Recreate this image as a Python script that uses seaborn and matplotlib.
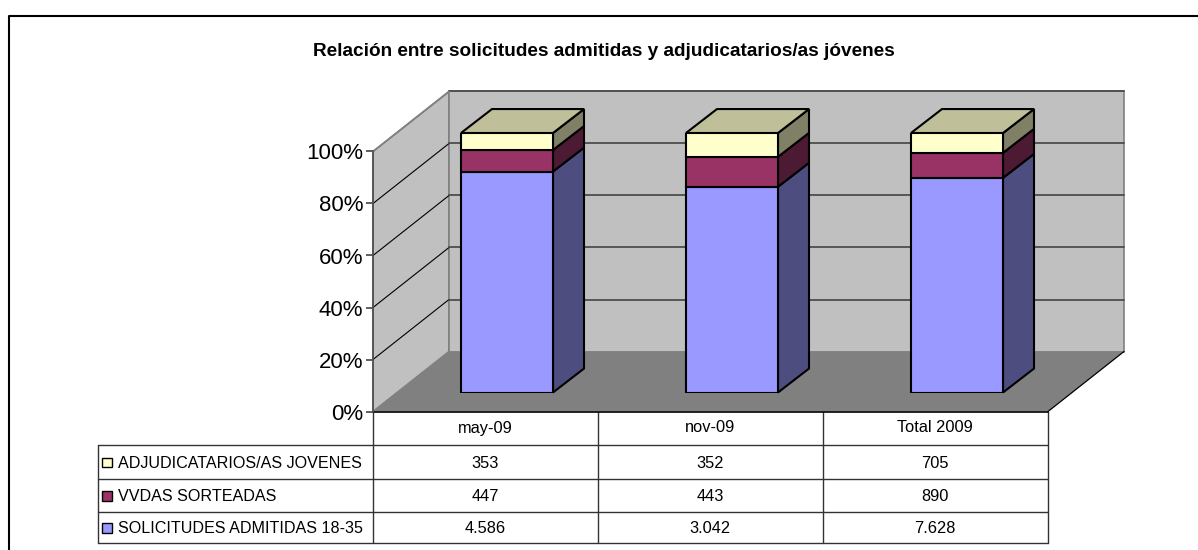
import numpy as np
import pandas as pd
import matplotlib
matplotlib.use("Agg")
import matplotlib.pyplot as plt
from matplotlib.patches import Polygon, Rectangle
import seaborn as sns

TITLE = "Relación entre solicitudes admitidas y adjudicatarios/as jóvenes"
periods = ["may-09", "nov-09", "Total 2009"]
series_names = ["SOLICITUDES ADMITIDAS 18-35", "VVDAS SORTEADAS", "ADJUDICATARIOS/AS JOVENES"]
solicitudes = [4586, 3042, 7628]
viviendas = [447, 443, 890]
adjudicatarios = [353, 352, 705]
front_colors = ["#9999FF", "#993366", "#FFFFCC"]
side_colors = ["#4D4D80", "#4D1A33", "#808066"]
top_color = "#BFBF99"
wall_color = "#C0C0C0"
floor_color = "#808080"
y_ticks = [0, 20, 40, 60, 80, 100]

sns.set_style("white")
plt.rcParams["font.family"] = ["Liberation Sans", "DejaVu Sans"]

W, H = 1198, 550
fig = plt.figure(figsize=(W / 100, H / 100), dpi=100, facecolor="white")


def rect(x0, ytop, x1, ybottom):
    return [x0 / W, 1 - ybottom / H, (x1 - x0) / W, (ybottom - ytop) / H]


# Layer in pixel coordinates for the frame, table and title
page = fig.add_axes([0, 0, 1, 1], zorder=0)
page.set_xlim(0, W)
page.set_ylim(H, 0)
page.axis("off")
page.plot([8.5, 8.5, W], [H, 15.5, 15.5], color="black", lw=1.5, clip_on=False)
page.text(603.5, 51.5, TITLE, ha="center", va="center", fontsize=13.7, fontweight="bold", color="black")

# Walled plot axes: front plane of the 3D box
X0, X1, Y0, Y100 = 373, 1048, 411.5, 151.5
DX, DY = 76, 60
ax = fig.add_axes(rect(X0, Y100, X1, Y0), zorder=1)
ax.patch.set_alpha(0)
ax.set_xlim(-0.5, 2.5)
ax.set_ylim(0, 100)
sns.despine(ax=ax, top=True, right=True, bottom=True)
ddx = DX / (X1 - X0) * 3
ddy = DY / (Y0 - Y100) * 100
left, right = -0.5, 2.5
ax.add_patch(Polygon([(left, 0), (left + ddx, ddy), (left + ddx, 100 + ddy), (left, 100)],
                     fc=wall_color, ec="#808080", lw=1.2, clip_on=False, zorder=1))
ax.add_patch(Polygon([(left + ddx, ddy), (right + ddx, ddy), (right + ddx, 100 + ddy), (left + ddx, 100 + ddy)],
                     fc=wall_color, ec="#808080", lw=1.2, clip_on=False, zorder=1))
ax.add_patch(Polygon([(left, 0), (right, 0), (right + ddx, ddy), (left + ddx, ddy)],
                     fc=floor_color, ec="none", clip_on=False, zorder=1.5))
ax.plot([right, right + ddx], [0, ddy], color="black", lw=0.9, clip_on=False, zorder=1.6)
ax.plot([left, right], [0, 0], color="black", lw=1.2, clip_on=False, zorder=1.6)
for t in y_ticks[1:]:
    if t < 100:
        ax.plot([left, left + ddx], [t, t + ddy], color="black", lw=0.8, clip_on=False, zorder=1.2)
    ax.plot([left + ddx, right + ddx], [t + ddy, t + ddy], color="#4D4D4D", lw=1.3, clip_on=False, zorder=1.2)
ax.plot([left, left + ddx], [100, 100 + ddy], color="#808080", lw=1.2, clip_on=False, zorder=1.2)
ax.set_xticks([])
ax.set_yticks(y_ticks)
ax.set_yticklabels([f"{t}%" for t in y_ticks], fontsize=16, color="black")
ax.tick_params(axis="y", left=True, length=5, width=1.1, color="#333333", pad=2)
ax.spines["left"].set_color("#4D4D4D")
ax.spines["left"].set_linewidth(1.2)
ax.set_xlabel("")
ax.set_ylabel("")

# Bars: front faces on an axes shifted back into the box
SHIFT_X, SHIFT_Y = 21.5, 19
BAR_DX, BAR_DY = 31, 24
bx = fig.add_axes(rect(X0 + SHIFT_X, Y100 - SHIFT_Y + 0.5, X1 + SHIFT_X, Y0 - SHIFT_Y), zorder=2)
bx.patch.set_alpha(0)
bx.axis("off")

df = pd.DataFrame({"periodo": periods, series_names[0]: solicitudes,
                   series_names[1]: viviendas, series_names[2]: adjudicatarios})
raw = df[series_names].to_numpy(float)
pct = raw / raw.sum(axis=1, keepdims=True) * 100
bottoms = np.zeros(len(periods))
bar_w = 92 / (X1 - X0) * 3
sdx = BAR_DX / (X1 - X0) * 3
sdy = BAR_DY / (Y0 - Y100) * 100
LW = 1.5
for k, name in enumerate(series_names):
    sns.barplot(x=periods, y=pct[:, k], bottom=bottoms, color=front_colors[k], saturation=1,
                width=bar_w, edgecolor="black", linewidth=LW, ax=bx, zorder=3)
    for i in range(len(periods)):
        xr = i + bar_w / 2
        b, t = bottoms[i], bottoms[i] + pct[i, k]
        bx.add_patch(Polygon([(xr, b), (xr + sdx, b + sdy), (xr + sdx, t + sdy), (xr, t)],
                             fc=side_colors[k], ec="black", lw=LW, clip_on=False, zorder=2.5))
    bottoms = bottoms + pct[:, k]
for i in range(len(periods)):
    xl, xr = i - bar_w / 2, i + bar_w / 2
    bx.add_patch(Polygon([(xl, 100), (xr, 100), (xr + sdx, 100 + sdy), (xl + sdx, 100 + sdy)],
                         fc=top_color, ec="black", lw=LW, clip_on=False, zorder=2.5))
bx.set_xlim(-0.5, 2.5)
bx.set_ylim(0, 100)
bx.axis("off")

# Data table
col_x = [372.5, 598, 822.5, 1048]
row_y = [412, 445, 479, 512, 543]
tleft = 97.5
grid = "#333333"
for x in col_x:
    page.plot([x, x], [row_y[0], row_y[-1]], color=grid, lw=1.0)
page.plot([tleft, tleft], [row_y[1], row_y[-1]], color=grid, lw=1.0)
for y in row_y[1:]:
    page.plot([tleft, col_x[-1]], [y, y], color=grid, lw=1.0)
fmt = lambda v: f"{v:,}".replace(",", ".")
for j, p in enumerate(periods):
    cx = (col_x[j] + col_x[j + 1]) / 2
    page.text(cx, 428, p, ha="center", va="center", fontsize=11.8, color="black")
table_rows = [(adjudicatarios, series_names[2], front_colors[2]),
              (viviendas, series_names[1], front_colors[1]),
              (solicitudes, series_names[0], front_colors[0])]
for r, (vals, name, col) in enumerate(table_rows):
    cy = (row_y[r + 1] + row_y[r + 2]) / 2
    page.add_patch(Rectangle((102, cy - 4.5), 9.5, 9.5, fc=col, ec="black", lw=1.0))
    page.text(118, cy + 1, name, ha="left", va="center", fontsize=11.6, color="black")
    for j, v in enumerate(vals):
        cx = (col_x[j] + col_x[j + 1]) / 2
        page.text(cx, cy + 1, fmt(v), ha="center", va="center", fontsize=11.8, color="black")

fig.savefig("out.png", dpi=100)
